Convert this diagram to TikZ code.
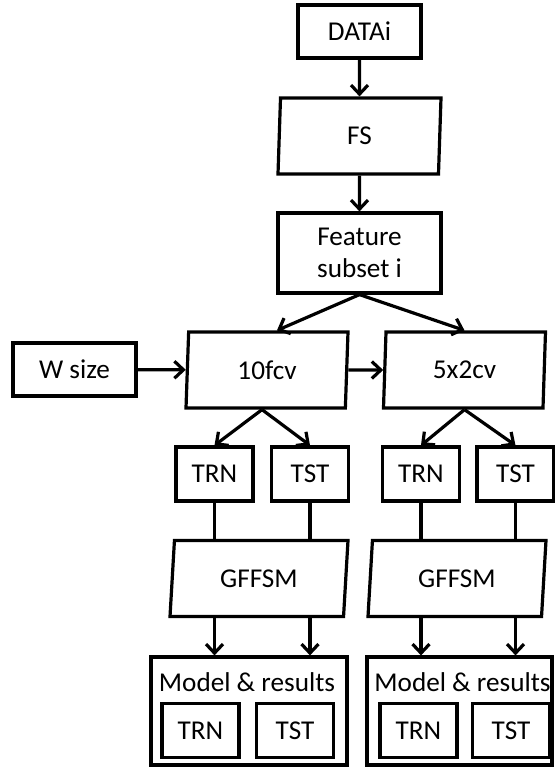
\documentclass[tikz,border=0pt]{standalone}
\usepackage{fontspec}
\setmainfont{Carlito}
\usetikzlibrary{shapes.geometric,arrows.meta}

\tikzset{
	box/.style={draw,rectangle,inner sep=0pt,minimum width=61.5pt,minimum height=26.5pt},
	small/.style={box,minimum width=38.5pt,minimum height=27pt},
	para/.style={draw,trapezium,trapezium left angle=82,trapezium right angle=98,trapezium stretches body,inner sep=0pt,minimum width=81pt,minimum height=38pt},
	flow/.style={-{Straight Barb[length=4.5pt,width=8.5pt]}}
}

\begin{document}
\begin{tikzpicture}[x=0.5pt,y=-0.5pt,line width=1.6pt,font=\fontsize{13.6}{16}\selectfont]
			\useasboundingbox (0,0) rectangle (554,767);
			\node[box] (data) at (359.5,31.5) {DATAi};
			\node[para,minimum width=81.5pt] (fs) at (359.5,136) {FS};
			\node[box,minimum width=81.5pt,minimum height=40pt,align=center] (feat) at (359.5,253) {Feature\\subset i};
			\node[box] (wsize) at (74.5,369.5) {W size};
			\node[para] (cva) at (267,370) {10fcv};
			\node[para] (cvb) at (464.5,370) {5x2cv};
			\node[small] (trna) at (214.5,474) {TRN};
			\node[small] (tsta) at (310,474) {TST};
			\node[small] (trnb) at (421,474) {TRN};
			\node[small] (tstb) at (515.5,474) {TST};
			\node[para,trapezium left angle=76,trapezium right angle=104,minimum width=89pt] (gfa) at (259,578.5) {GFFSM};
			\node[para,trapezium left angle=76,trapezium right angle=104,minimum width=89pt] (gfb) at (457,578.5) {GFFSM};
			\node[draw,rectangle,inner sep=0pt,minimum width=98pt,minimum height=54pt] (resa) at (249,711) {};
			\node[draw,rectangle,inner sep=0pt,minimum width=92.5pt,minimum height=54pt] (resb) at (459.5,711) {};
			\node (mra) at (247,682) {Model \& results};
			\node (mrb) at (462.5,682) {Model \& results};
			\node[small] (trnc) at (200.5,730.5) {TRN};
			\node[small] (tstc) at (295,730.5) {TST};
			\node[small] (trnd) at (418.5,730.5) {TRN};
			\node[small] (tstd) at (511,730.5) {TST};
			\draw[flow] (data) -- (fs);
			\draw[flow] (fs) -- (feat);
			\draw[flow] (feat.south) -- ([xshift=5pt]cva.north);
			\draw[flow] (feat.south) -- (cvb.north);
			\draw[flow] (wsize) -- (cva);
			\draw[flow] (cva) -- (cvb);
			\draw[flow] ([xshift=-2.5pt]cva.south) -- (trna.north);
			\draw[flow] ([xshift=-2.5pt]cva.south) -- (tsta.north);
			\draw[flow] (cvb.south) -- (trnb.north);
			\draw[flow] (cvb.south) -- (tstb.north);
			\draw (trna) -- (trna |- gfa.north);
			\draw (tsta) -- (tsta |- gfa.north);
			\draw (trnb) -- (trnb |- gfb.north);
			\draw (tstb) -- (tstb |- gfb.north);
			\draw[flow] (trna |- gfa.south) -- (trna |- resa.north);
			\draw[flow] (tsta |- gfa.south) -- (tsta |- resa.north);
			\draw[flow] (trnb |- gfb.south) -- (trnb |- resb.north);
			\draw[flow] (tstb |- gfb.south) -- (tstb |- resb.north);
		\end{tikzpicture}
\end{document}
